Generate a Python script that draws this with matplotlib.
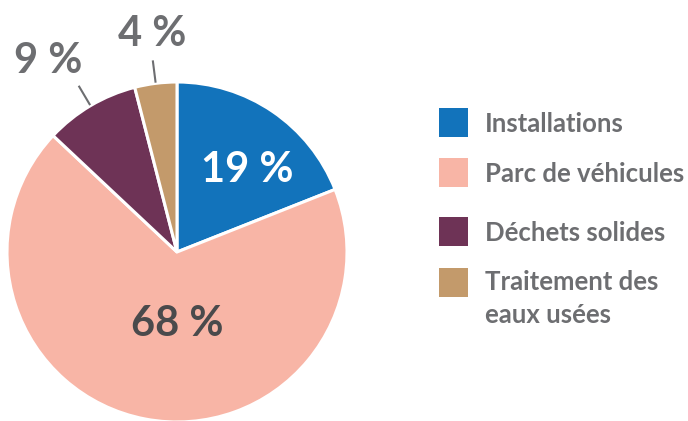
import numpy as np
import matplotlib.pyplot as plt
from matplotlib.patches import Rectangle

labels = ['Installations', 'Parc de véhicules', 'Déchets solides', 'Traitement des\neaux usées']
values = [19, 68, 9, 4]
colors = ['#1273bb', '#f8b5a6', '#6e3356', '#c39a6b']

W, H = 688, 421
fig = plt.figure(figsize=(W / 100, H / 100), dpi=100)
ax = fig.add_axes([0, 0, 1, 1])

FONT = ['Lato', 'DejaVu Sans']
cx, cy, R = 177, H - 252, 170

wedges, _ = ax.pie(values, colors=colors, startangle=90, counterclock=False,
                   radius=R, center=(cx, cy), frame=True,
                   wedgeprops=dict(edgecolor='white', linewidth=2.2))
ax.set_xlim(0, W)
ax.set_ylim(0, H)
ax.set_aspect('equal')
ax.axis('off')

# percentage labels (x centre, baseline y in image pixels)
label_pos = [(247, 182), (177, 336), (48, 73), (152, 46)]
label_col = ['white', '#4a4a4c', '#6d6e71', '#6d6e71']
for v, (x, y), c in zip(values, label_pos, label_col):
    ax.text(x, H - y, f'{v} %', ha='center', va='baseline', fontsize=30,
            fontweight='bold', color=c, family=FONT)

# leader lines for the small slices
for w in wedges[2:]:
    a = np.deg2rad((w.theta1 + w.theta2) / 2)
    ax.plot([cx + R * 1.01 * np.cos(a), cx + R * 1.13 * np.cos(a)],
            [cy + R * 1.01 * np.sin(a), cy + R * 1.13 * np.sin(a)],
            color='#6d6e71', lw=1.5)

# legend
rows = [122, 172, 231, 282]
step = 31  # px between lines of a wrapped label
for lab, c, y in zip(labels, colors, rows):
    ax.add_patch(Rectangle((439, H - y - 14.5), 29, 29, color=c, lw=0))
    extra = lab.count('\n') * step
    ax.text(485, H - y - 10 - extra, lab, ha='left', va='baseline', fontsize=18.5,
            fontweight='bold', color='#6d6e71', family=FONT, linespacing=1.43)

fig.savefig('out.png', dpi=100)
